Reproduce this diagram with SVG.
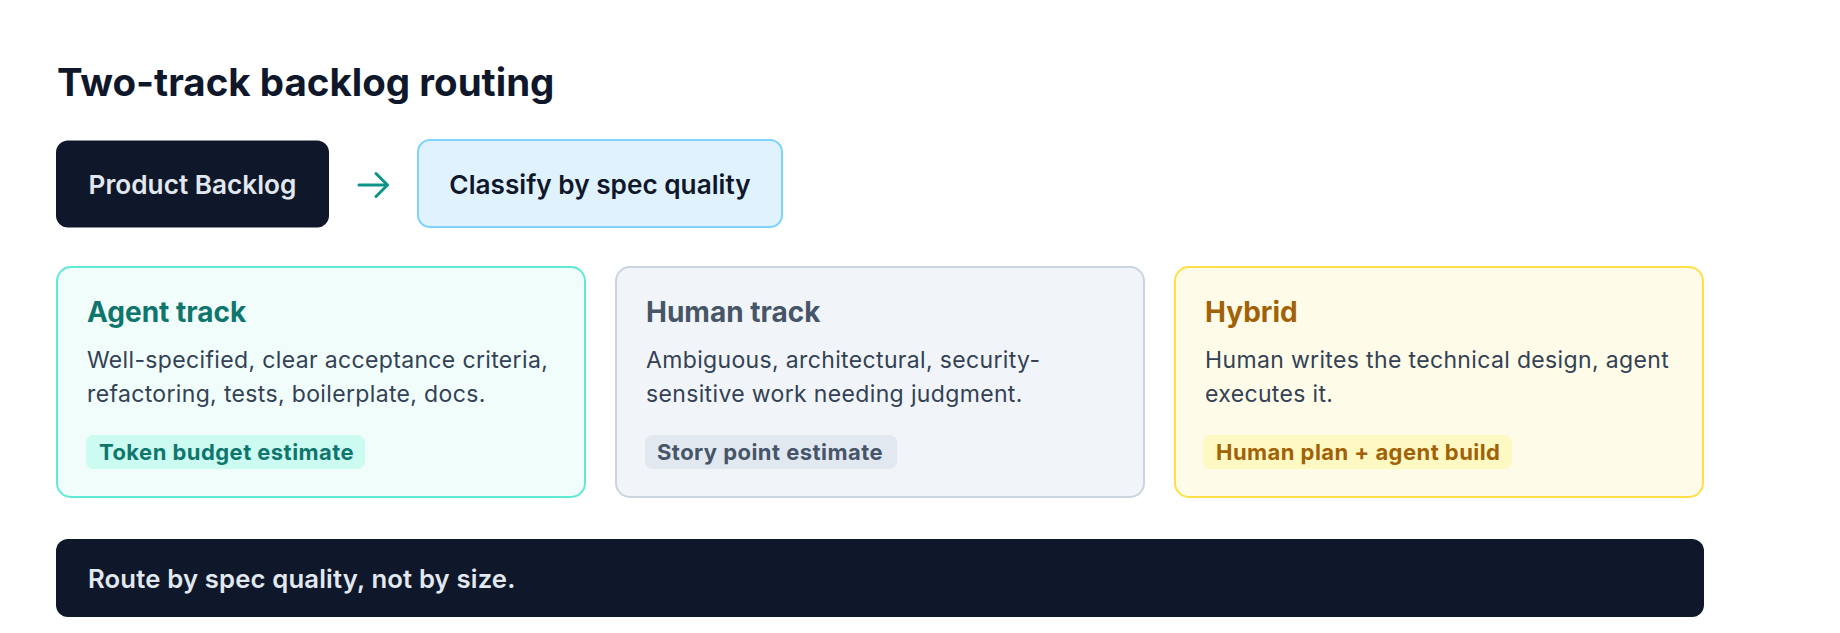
<svg xmlns="http://www.w3.org/2000/svg" width="1840" height="633" viewBox="0 0 1840 633">
<style>
text{font-family:Inter,"Noto Sans","Liberation Sans",sans-serif}
.h1{font-size:38.5px;font-weight:700;fill:#0f172a}
.step{font-size:26.2px;font-weight:600}
.ct{font-size:28px;font-weight:700}
.desc{font-size:23px;font-weight:400;fill:#334155;letter-spacing:0.35px}
.tag{font-size:22px;font-weight:700;letter-spacing:0.45px}
.note{font-size:25.7px;font-weight:600;fill:#e2e8f0;letter-spacing:0.15px}
.card{stroke-width:2}
</style>
<rect width="1840" height="633" fill="#ffffff"/>
<text class="h1" x="57" y="96">Two-track backlog routing</text>
<g id="backlog">
<rect x="56" y="140.5" width="273" height="87" rx="12" fill="#0f172a"/>
<text class="step" x="192.5" y="194" text-anchor="middle" fill="#e2e8f0">Product Backlog</text>
</g>
<g id="classify">
<rect x="418" y="140" width="364" height="87" rx="12" fill="#e0f2fe" stroke="#7dd3fc" stroke-width="2"/>
<text class="step" x="600" y="194" text-anchor="middle" fill="#0f172a">Classify by spec quality</text>
</g>
<g id="connectors" fill="none" stroke="#0d9488" stroke-width="3" stroke-linecap="round" stroke-linejoin="round">
<path d="M359 185 H387"/>
<path d="M376 173.5 L387.5 185 L376 196.5"/>
</g>
<g id="agent">
<rect class="card" x="57" y="267" width="528" height="230" rx="14" fill="#f0fdfa" stroke="#5eead4"/>
<text class="ct" x="87" y="322" fill="#0f766e">Agent track</text>
<text class="desc" x="87" y="368">Well-specified, clear acceptance criteria,</text>
<text class="desc" x="87" y="402">refactoring, tests, boilerplate, docs.</text>
<rect x="86" y="435" width="279" height="34" rx="8" fill="#ccfbf1"/>
<text class="tag" x="99" y="459.5" fill="#0f766e">Token budget estimate</text>
</g>
<g id="human">
<rect class="card" x="616" y="267" width="528" height="230" rx="14" fill="#f1f5f9" stroke="#cbd5e1"/>
<text class="ct" x="646" y="322" fill="#475569">Human track</text>
<text class="desc" x="646" y="368">Ambiguous, architectural, security-</text>
<text class="desc" x="646" y="402">sensitive work needing judgment.</text>
<rect x="645" y="435" width="252" height="34" rx="8" fill="#e2e8f0"/>
<text class="tag" x="657" y="459.5" fill="#475569">Story point estimate</text>
</g>
<g id="hybrid">
<rect class="card" x="1175" y="267" width="528" height="230" rx="14" fill="#fefce8" stroke="#fde047"/>
<text class="ct" x="1205" y="322" fill="#a16207">Hybrid</text>
<text class="desc" x="1205" y="368">Human writes the technical design, agent</text>
<text class="desc" x="1205" y="402">executes it.</text>
<rect x="1203" y="435" width="309" height="34" rx="8" fill="#fef9c3"/>
<text class="tag" x="1216" y="459.5" fill="#a16207">Human plan + agent build</text>
</g>
<g id="summary">
<rect x="56" y="539" width="1648" height="78" rx="12" fill="#0f172a"/>
<text class="note" x="88" y="588">Route by spec quality, not by size.</text>
</g>
</svg>
